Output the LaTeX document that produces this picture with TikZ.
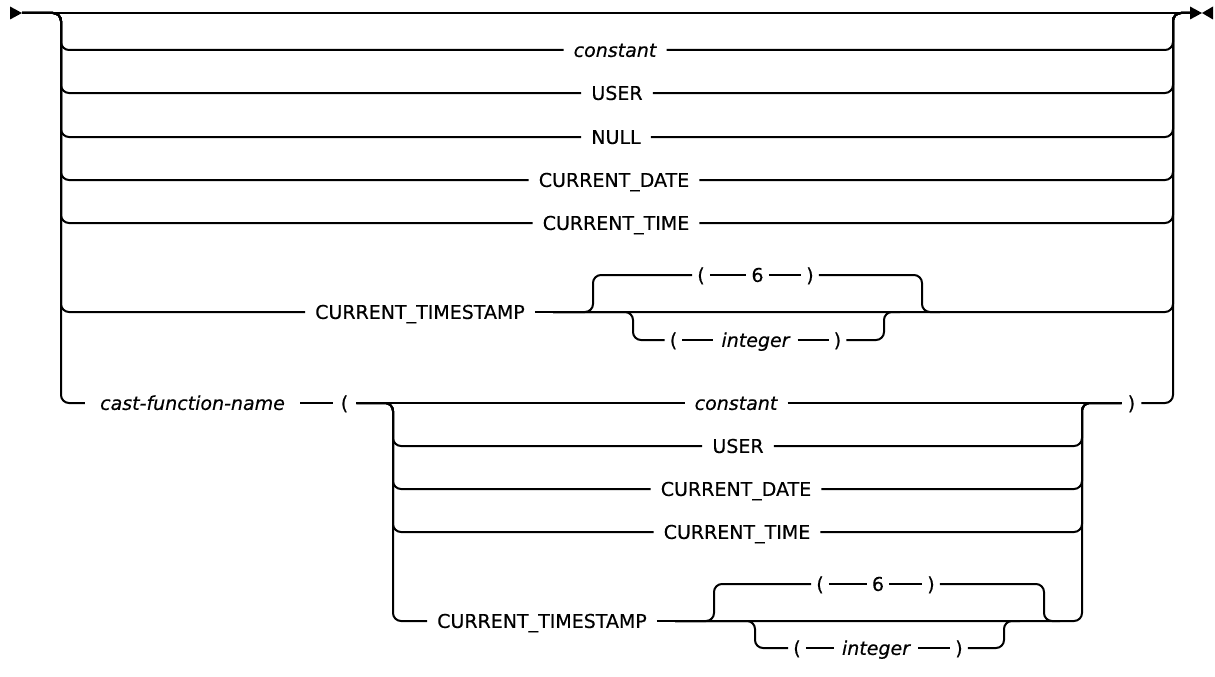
\documentclass[tikz,border=0pt]{standalone}
\usepackage{fontspec}
\setmainfont{DejaVu Sans}[FakeBold=0.4]
\newcommand\rrfont{\fontsize{19pt}{23pt}\selectfont}
\begin{document}
\begin{tikzpicture}[x=1pt,y=-1pt,
  rr/.style={line width=2pt, rounded corners=8pt},
  kw/.style={font=\rrfont, text height=13.8pt, text depth=0pt, inner ysep=0pt, inner xsep=10pt, anchor=center},
  var/.style={kw, font=\rrfont\itshape},
  punct/.style={kw, inner xsep=5pt}
]
\useasboundingbox (0,0) rectangle (1215,677);

% entry / exit
\coordinate (start) at (22,13);
\coordinate (end) at (1191,13);
\coordinate (lf) at (61,13);
\coordinate (rf) at (1173,13);
\fill (10,6.5) -- (start) -- (10,19.5) -- cycle;
\fill (1190,6.5) -- (1202,13) -- (1190,19.5) -- cycle;
\fill (1213,6.5) -- (1202,13) -- (1213,19.5) -- cycle;
\draw[rr] (start) -- (end);

% top alternatives
\node[var] (c1) at (615,50) {constant};
\node[kw]  (u1) at (617,93) {USER};
\node[kw]  (n1) at (616,137) {NULL};
\node[kw]  (d1) at (614,180) {CURRENT\_DATE};
\node[kw]  (t1) at (616,223) {CURRENT\_TIME};
\node[kw]  (ts1) at (420,312) {CURRENT\_TIMESTAMP};
\coordinate (ts1o) at (553,312);

\foreach \n in {c1,u1,n1,d1,t1}{
  \draw[rr] (start) -| (lf |- \n.west) -- (\n.west);
  \draw[rr] (\n.east) -| (rf) -- (end);
}
\draw[rr] (start) -| (lf |- ts1.west) -- (ts1.west);
\draw[rr] (ts1.east) -- (ts1o);
\draw[rr] (ts1o) -| (rf) -- (end);

% timestamp precision (top)
\node[punct] (lp6) at (701,275) {(};
\node[kw, inner xsep=5pt] (six) at (757.5,275) {6};
\node[punct] (rp6) at (810,275) {)};
\draw[rr] (ts1o) -| (593,275) -- (lp6.west);
\draw[rr] (lp6.east) -- (six.west);
\draw[rr] (six.east) -- (rp6.west);
\draw[rr] (rp6.east) -| (922,312) -- (940,312);

\node[punct] (lpi) at (673.5,340) {(};
\node[var, inner xsep=8pt] (int) at (755.5,340) {integer};
\node[punct] (rpi) at (837.5,340) {)};
\draw[rr] (ts1o) -| (633,340) -- (lpi.west);
\draw[rr] (lpi.east) -- (int.west);
\draw[rr] (int.east) -- (rpi.west);
\draw[rr] (rpi.east) -| (884,312) -- (900,312);

% cast function
\node[var, inner xsep=15pt] (cfn) at (192.5,403) {cast-function-name};
\node[punct, inner xsep=8pt] (lpc) at (344.5,403) {(};
\node[punct, inner xsep=6pt] (rpc) at (1131.5,403) {)};
\coordinate (il) at (393,403);
\coordinate (ir) at (1082,403);
\draw[rr] (start) -| (lf |- cfn.west) -- (cfn.west);
\draw[rr] (cfn.east) -- (lpc.west);
\draw[rr] (rpc.east) -| (rf) -- (end);

\node[var] (c2) at (736,403) {constant};
\node[kw]  (u2) at (738,446) {USER};
\node[kw]  (d2) at (736,489) {CURRENT\_DATE};
\node[kw]  (t2) at (737,532) {CURRENT\_TIME};
\node[kw]  (ts2) at (542,621) {CURRENT\_TIMESTAMP};
\coordinate (ts2o) at (675,621);

\draw[rr] (lpc.east) -- (c2.west);
\draw[rr] (c2.east) -- (rpc.west);
\foreach \n in {u2,d2,t2}{
  \draw[rr] (lpc.east) -| (il |- \n.west) -- (\n.west);
  \draw[rr] (\n.east) -| (ir) -- (rpc.west);
}
\draw[rr] (lpc.east) -| (il |- ts2.west) -- (ts2.west);
\draw[rr] (ts2.east) -- (ts2o);
\draw[rr] (ts2o) -| (ir) -- (rpc.west);

% timestamp precision (bottom)
\node[punct] (lp6b) at (820,584) {(};
\node[kw, inner xsep=5pt] (sixb) at (878,584) {6};
\node[punct] (rp6b) at (931,584) {)};
\draw[rr] (ts2o) -| (714,584) -- (lp6b.west);
\draw[rr] (lp6b.east) -- (sixb.west);
\draw[rr] (sixb.east) -- (rp6b.west);
\draw[rr] (rp6b.east) -| (1044,621) -- (1060,621);

\node[punct] (lpib) at (797,648) {(};
\node[var, inner xsep=8pt] (intb) at (876,648) {integer};
\node[punct] (rpib) at (959,648) {)};
\draw[rr] (ts2o) -| (755,648) -- (lpib.west);
\draw[rr] (lpib.east) -- (intb.west);
\draw[rr] (intb.east) -- (rpib.west);
\draw[rr] (rpib.east) -| (1004,621) -- (1020,621);
\end{tikzpicture}
\end{document}
